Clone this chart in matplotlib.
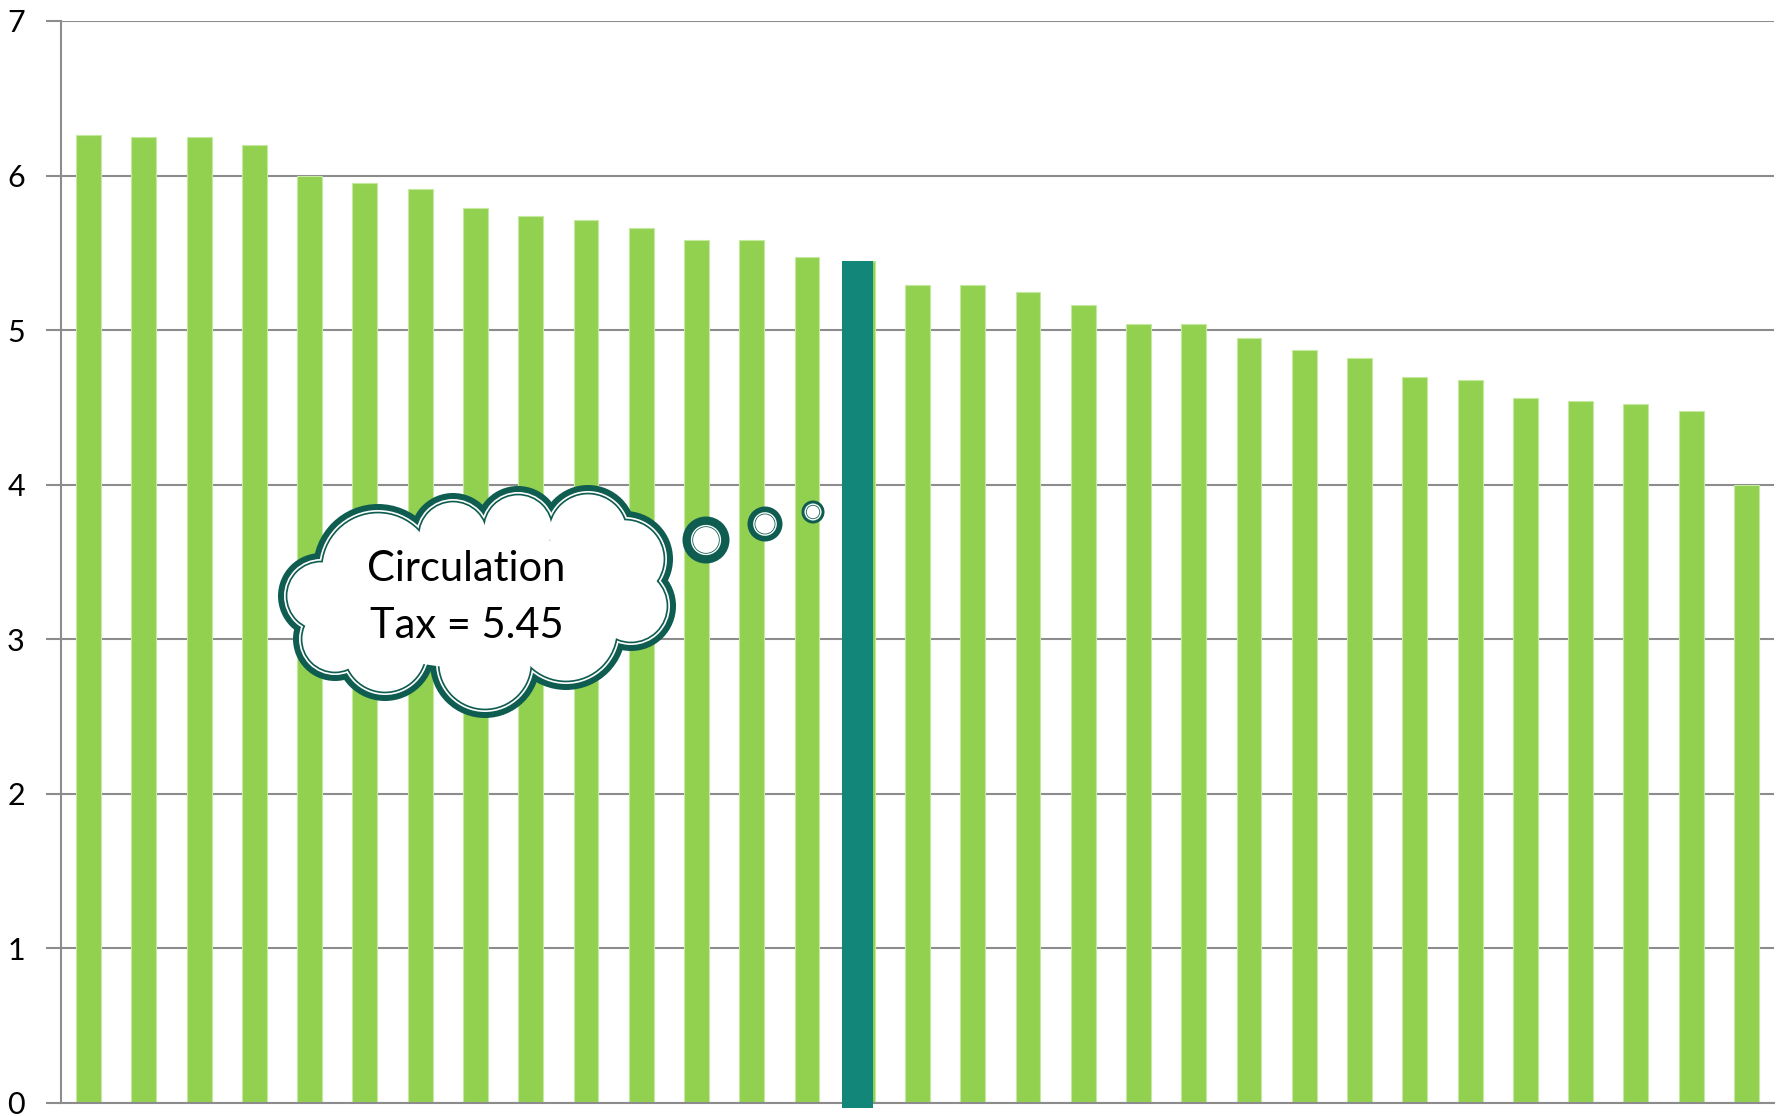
import matplotlib
matplotlib.use("Agg")
import matplotlib.pyplot as plt
from matplotlib.patches import Circle, Ellipse

plt.rcParams['font.family'] = ['Lato', 'DejaVu Sans']

# bar heights, highest to lowest
values = [6.26, 6.25, 6.25, 6.20, 6.00, 5.95, 5.91, 5.79, 5.74, 5.71, 5.66,
          5.58, 5.58, 5.47, 5.45, 5.29, 5.29, 5.25, 5.16, 5.04, 5.04, 4.95,
          4.87, 4.82, 4.70, 4.68, 4.56, 4.54, 4.52, 4.48, 4.00]
highlight_index = 14
highlight_value = 5.45
yticks = [0, 1, 2, 3, 4, 5, 6, 7]
cloud_lines = ["Circulation", "Tax = 5.45"]

GREEN = '#92D050'
TEAL = '#13867A'
DARK = '#0F5D50'
GRID = '#8C8C8C'

W, H = 1785, 1116
fig = plt.figure(figsize=(W / 100, H / 100), dpi=100)
ax = fig.add_axes([61 / W, 13 / H, (1774 - 61) / W, (1103 - 21) / H])

x = list(range(len(values)))
ax.bar(x, values, width=0.45, color=GREEN, edgecolor='#C6E9A2',
       linewidth=0.8, zorder=2)
# highlighted bar sits slightly wider over its green twin
ax.bar(highlight_index - 0.08, highlight_value + 0.03, bottom=-0.03,
       width=0.56, color=TEAL, linewidth=0, zorder=3, clip_on=False)

ax.set_xlim(-0.5, len(values) - 0.5)
ax.set_ylim(0, 7)
ax.set_yticks(yticks)
ax.set_yticklabels([str(t) for t in yticks], fontsize=22)
ax.set_xticks([])
ax.yaxis.grid(True, color=GRID, linewidth=1.5, zorder=1)
ax.set_axisbelow(True)
ax.tick_params(axis='y', length=11, width=1.5, color=GRID, pad=15,
               direction='out')
for side in ['top', 'right']:
    ax.spines[side].set_visible(False)
ax.spines['left'].set_color(GRID)
ax.spines['left'].set_linewidth(1.5)
ax.spines['bottom'].set_color(GRID)
ax.spines['bottom'].set_linewidth(1.5)

# overlay in pixel coordinates for the thought cloud
ov = fig.add_axes([0, 0, 1, 1], zorder=10)
ov.set_xlim(0, W)
ov.set_ylim(H, 0)
ov.axis('off')
ov.patch.set_alpha(0)

bumps = [(378, 569, 65), (453, 536, 43), (518, 529, 43), (588, 533, 48),
         (625, 559, 48), (631, 606, 45), (566, 630, 60), (485, 663, 55),
         (385, 651, 50), (335, 639, 42), (321, 596, 43)]

layers = [(0, DARK), (6, 'white'), (7.7, DARK), (9.4, 'white')]
for z, (shrink, col) in enumerate(layers):
    for cx, cy, r in bumps:
        ov.add_patch(Circle((cx, cy), r - shrink, facecolor=col,
                            edgecolor='none', zorder=z + 1))
ov.add_patch(Ellipse((470, 598), 280, 140, facecolor='white',
                     edgecolor='none', zorder=5))

# small bubbles trailing towards the highlighted bar
bubbles = [(706, 540, 23.5), (765, 524, 17.5), (813, 512, 11.5)]
for cx, cy, r in bubbles:
    inner = r * 0.55
    ov.add_patch(Circle((cx, cy), r, facecolor=DARK, edgecolor='none', zorder=6))
    ov.add_patch(Circle((cx, cy), inner + 2.2, facecolor='white',
                        edgecolor='none', zorder=7))
    ov.add_patch(Circle((cx, cy), inner + 0.8, facecolor=DARK,
                        edgecolor='none', zorder=8))
    ov.add_patch(Circle((cx, cy), inner, facecolor='white',
                        edgecolor='none', zorder=9))

ov.text(466, 569, cloud_lines[0], fontsize=30, ha='center', va='center',
        color='black', zorder=11)
ov.text(467, 626, cloud_lines[1], fontsize=30, ha='center', va='center',
        color='black', zorder=11)

fig.savefig('out.png', dpi=100)
